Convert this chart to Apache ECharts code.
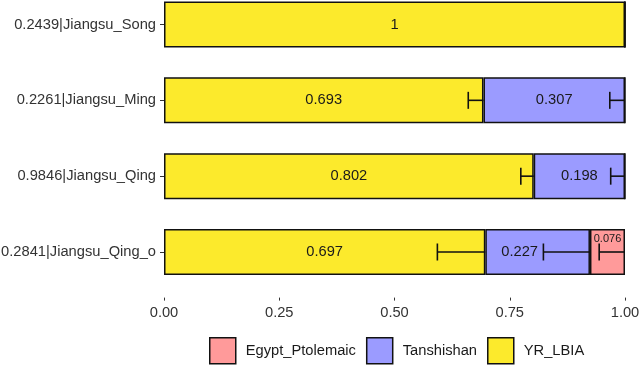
<!DOCTYPE html>
<html>
<head>
<meta charset="utf-8">
<script src="https://cdn.jsdelivr.net/npm/echarts@6/dist/echarts.min.js"></script>
<style>html,body{margin:0;padding:0;background:#fff}#c{width:639px;height:365px}</style>
</head>
<body>
<div id="c"></div>
<script>
var categories = ['0.2439|Jiangsu_Song', '0.2261|Jiangsu_Ming', '0.9846|Jiangsu_Qing', '0.2841|Jiangsu_Qing_o'];
var yrLbia = [1, 0.693, 0.802, 0.697];
var tanshishan = [0, 0.307, 0.198, 0.227];
var egyptPtolemaic = [0, 0, 0, 0.076];
var yrLbiaSe = [0, 0.033, 0.028, 0.104];
var tanshishanSe = [0, 0.033, 0.031, 0.101];
var egyptSe = [0, 0, 0, 0.056];
var xTicks = [0, 0.25, 0.5, 0.75, 1];

var colors = {YR_LBIA: '#FCEA2C', Tanshishan: '#9B9BFF', Egypt_Ptolemaic: '#FF9A9A'};
var FONT = 'Liberation Sans, Arial';
var FS = 14.7;

function fmt(v) { return v === 1 ? '1' : String(v); }

function labelled(vals, extra) {
  return vals.map(function (v, i) {
    var item = {value: v};
    if (v === 0) { item.label = {show: false}; }
    if (extra && extra[i]) { item.label = extra[i]; }
    return item;
  });
}

// error bars: [start, end, category]
var errData = [];
categories.forEach(function (c, i) {
  var cum = 0;
  [[yrLbia, yrLbiaSe], [tanshishan, tanshishanSe], [egyptPtolemaic, egyptSe]].forEach(function (p) {
    cum += p[0][i];
    if (p[1][i] > 0) errData.push([cum - p[1][i], cum, i]);
  });
});

var chart = echarts.init(document.getElementById('c'), null, {renderer: 'canvas'});
var barLabel = {show: true, position: 'inside', color: '#1a1a1a', fontSize: FS, fontFamily: FONT, formatter: function (p) { return fmt(p.value); }};
var barStyle = function (name) { return {color: colors[name], borderColor: '#111', borderWidth: 1.5}; };

chart.setOption({
  animation: false,
  grid: {left: 164, right: 14, top: 24.5, bottom: 113, containLabel: false, outerBoundsMode: 'none'},
  legend: {
    data: ['Egypt_Ptolemaic', 'Tanshishan', 'YR_LBIA'],
    left: 209, top: 337, padding: 0, icon: 'rect', itemWidth: 26, itemHeight: 26, itemGap: 10,
    itemStyle: {borderColor: '#111', borderWidth: 1.5},
    textStyle: {fontSize: FS, color: '#1a1a1a', fontFamily: FONT, padding: [0, 0, 0, 5]}
  },
  xAxis: {
    type: 'value', min: 0, max: 1, interval: 0.25, offset: 45.6,
    axisLine: {show: false},
    axisTick: {show: true, length: 3, lineStyle: {color: '#333', width: 1}},
    splitLine: {show: false},
    axisLabel: {color: '#333', fontSize: FS, fontFamily: FONT, margin: 8,
      formatter: function (v) { return v.toFixed(2); }}
  },
  yAxis: {
    type: 'category', data: categories, inverse: true, boundaryGap: false,
    axisLine: {show: false},
    splitLine: {show: false},
    axisTick: {show: true, length: 4, lineStyle: {color: '#333', width: 1}},
    axisLabel: {color: '#333', fontSize: FS, fontFamily: FONT, margin: 8}
  },
  series: [
    {name: 'YR_LBIA', type: 'bar', stack: 's', barWidth: 46, clip: false, itemStyle: barStyle('YR_LBIA'), label: barLabel,
      data: labelled(yrLbia)},
    {name: 'Tanshishan', type: 'bar', stack: 's', barWidth: 46, clip: false, itemStyle: barStyle('Tanshishan'), label: barLabel,
      data: labelled(tanshishan, [null, null, null, {show: true, offset: [-18, 0]}])},
    {name: 'Egypt_Ptolemaic', type: 'bar', stack: 's', barWidth: 46, clip: false, itemStyle: barStyle('Egypt_Ptolemaic'), label: barLabel,
      data: labelled(egyptPtolemaic, [null, null, null, {show: true, position: 'insideTop', distance: 4, fontSize: 11}])},
    {
      type: 'custom', name: 'err', silent: true, z: 10, clip: false,
      data: errData,
      renderItem: function (params, api) {
        var s = api.coord([api.value(0), api.value(2)]);
        var e = api.coord([api.value(1), api.value(2)]);
        var h = 8.5;
        return {type: 'group', children: [
          {type: 'line', shape: {x1: s[0], y1: s[1], x2: e[0], y2: e[1]}, style: {stroke: '#111', lineWidth: 1.6}},
          {type: 'line', shape: {x1: s[0], y1: s[1] - h, x2: s[0], y2: s[1] + h}, style: {stroke: '#111', lineWidth: 1.6}}
        ]};
      }
    }
  ]
});
</script>
</body>
</html>
